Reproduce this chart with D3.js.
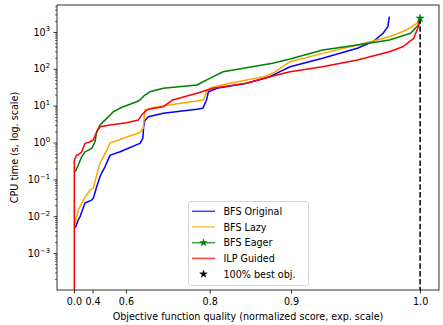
<!DOCTYPE html>
<html>
<head>
<meta charset="utf-8">
<script src="https://cdn.jsdelivr.net/npm/d3@7"></script>
<style>
  body { margin: 0; background: #fff; }
  text { font-family: "DejaVu Sans", sans-serif; fill: #000; }
</style>
</head>
<body>
<svg id="chart" width="443" height="325"></svg>
<script>
// tick labels
var xTicks = [0.0, 0.4, 0.6, 0.8, 0.9, 1.0];
var yTicks = [1e-3, 1e-2, 1e-1, 1, 10, 100, 1000];

// [quality, cpu seconds]
var bfsOriginal = [[0.07,0.0049],[0.174,0.0079],[0.217,0.0097],[0.309,0.023],[0.391,0.0275],[0.407,0.031],
  [0.4375,0.063],[0.463,0.118],[0.475,0.149],[0.497,0.22],[0.527,0.457],[0.576,0.563],[0.649,0.95],
  [0.658,1.3],[0.66,2.5],[0.663,3.84],[0.674,5.0],[0.712,6.2],[0.779,7.96],[0.789,8.47],[0.795,14.3],
  [0.798,23.9],[0.811,29.6],[0.851,40.5],[0.878,61],[0.885,75.6],[0.899,114],[0.929,193],[0.957,361],
  [0.9686,546],[0.9757,922],[0.979,1393],[0.980,2600]];
var bfsLazy = [[0.05,0.0062],[0.174,0.0147],[0.282,0.0275],[0.373,0.0513],[0.407,0.058],[0.4375,0.131],
  [0.463,0.277],[0.508,0.625],[0.527,0.97],[0.649,1.87],[0.659,2.47],[0.664,7.6],[0.696,9.4],[0.790,14.3],
  [0.795,23.9],[0.80,29.6],[0.829,40.5],[0.871,61],[0.881,75.6],[0.899,156],[0.929,263],[0.957,444],
  [0.98,745],[0.9915,1133],[0.998,1722],[1.0,2355]];
var bfsEager = [[0.07,0.161],[0.174,0.245],[0.253,0.41],[0.309,0.56],[0.391,0.695],[0.423,1.05],[0.4375,1.96],
  [0.463,2.99],[0.508,4.54],[0.544,6.85],[0.589,9.4],[0.639,12.8],[0.649,14.3],[0.664,19.5],[0.678,23.9],
  [0.712,29.6],[0.779,36.4],[0.80,55.3],[0.82,83.6],[0.881,141],[0.899,185],[0.929,325],[0.957,444],
  [0.98,607],[0.994,922],[0.9989,1549],[1.0,2355]];
var ilpGuided = [[0.02,5e-5],[0.02,0.335],[0.124,0.457],[0.165,0.46],[0.253,0.56],[0.309,0.95],[0.373,1.05],
  [0.407,1.17],[0.4375,1.96],[0.463,2.69],[0.527,2.99],[0.603,3.44],[0.644,4.08],[0.654,5.57],[0.669,7.6],
  [0.678,8.1],[0.712,9.4],[0.733,14.3],[0.779,21.7],[0.805,29.6],[0.851,40.5],[0.878,61],[0.899,83.6],
  [0.929,114],[0.957,174],[0.98,292],[0.989,398],[0.996,674],[0.9989,1393],[1.0,2355]];
var bestQuality = 1.0;
var bestTime = 2355;

var seriesNames = ["BFS Original", "BFS Lazy", "BFS Eager", "ILP Guided"];
var seriesColors = ["#0000ff", "#ffa500", "#008000", "#ff0000"];
var seriesData = [bfsOriginal, bfsLazy, bfsEager, ilpGuided];

var L = 57, R = 439, T = 5, B = 290;
var svg = d3.select("#chart");

// exp scale: quality q is placed linearly in 10^(2q)
var xLin = d3.scaleLinear().domain([-3.86, 105.4]).range([L, R]);
var x = function (q) { return xLin(Math.pow(10, 2 * q)); };
var y = d3.scaleLog().domain([1e-4, 5395]).range([B, T]);

svg.append("clipPath").attr("id", "clip")
    .append("rect").attr("x", L).attr("y", T).attr("width", R - L).attr("height", B - T);

var plot = svg.append("g").attr("clip-path", "url(#clip)");

var line = d3.line().x(function (d) { return x(d[0]); }).y(function (d) { return y(d[1]); });

seriesData.forEach(function (s, i) {
    plot.append("path")
        .attr("d", line(s))
        .attr("fill", "none")
        .attr("stroke", seriesColors[i])
        .attr("stroke-width", 1.5)
        .attr("stroke-linejoin", "round");
});

// dashed line at the best objective
plot.append("line")
    .attr("x1", x(bestQuality)).attr("x2", x(bestQuality))
    .attr("y1", y(bestTime)).attr("y2", B)
    .attr("stroke", "#000").attr("stroke-width", 1.5)
    .attr("stroke-dasharray", "5.5,2.4");

var star = d3.symbol().type(d3.symbolStar);
svg.append("path")
    .attr("d", star.size(20)())
    .attr("transform", "translate(" + x(bestQuality) + "," + y(bestTime) + ")")
    .attr("fill", "#008000").attr("stroke", "#008000").attr("stroke-width", 0.5);

// x axis
var xAxis = svg.append("g").attr("transform", "translate(0," + B + ")")
    .call(d3.axisBottom(xLin)
        .tickValues(xTicks.map(function (q) { return Math.pow(10, 2 * q); }))
        .tickFormat(function (d, i) { return xTicks[i].toFixed(1); })
        .tickSize(3.5).tickPadding(5).tickSizeOuter(0));
xAxis.select(".domain").remove();
xAxis.selectAll("text").style("font-size", "9.6px").style("font-family", "DejaVu Sans");
xAxis.selectAll("line").attr("stroke", "#000").attr("stroke-width", 0.8);

// y axis, minor ticks
var minor = [];
for (var k = -4; k <= 3; k++) {
    for (var m = 2; m <= 9; m++) {
        var v = m * Math.pow(10, k);
        if (v <= 5395) minor.push(v);
    }
}
var yMinor = svg.append("g").attr("transform", "translate(" + L + ",0)")
    .call(d3.axisLeft(y).tickValues(minor).tickFormat("").tickSize(2).tickSizeOuter(0));
yMinor.select(".domain").remove();
yMinor.selectAll("line").attr("stroke", "#000").attr("stroke-width", 0.6);

var yAxis = svg.append("g").attr("transform", "translate(" + L + ",0)")
    .call(d3.axisLeft(y).tickValues(yTicks).tickFormat("").tickSize(3.5).tickSizeOuter(0));
yAxis.select(".domain").remove();
yAxis.selectAll("line").attr("stroke", "#000").attr("stroke-width", 0.8);

yTicks.forEach(function (t) {
    var e = Math.round(Math.log10(t));
    var txt = svg.append("text")
        .attr("x", 50).attr("y", y(t) + 3.6)
        .attr("text-anchor", "end")
        .style("font-size", "9.6px");
    txt.append("tspan").text("10");
    txt.append("tspan").attr("dy", -4.2).style("font-size", "6.8px")
        .text(e < 0 ? "\u2212" + (-e) : String(e));
});

// frame
svg.append("rect").attr("x", L).attr("y", T).attr("width", R - L).attr("height", B - T)
    .attr("fill", "none").attr("stroke", "#000").attr("stroke-width", 0.8);

// axis labels
svg.append("text").attr("x", (L + R) / 2).attr("y", 320)
    .attr("text-anchor", "middle").style("font-size", "9.6px")
    .text("Objective function quality (normalized score, exp. scale)");
svg.append("text").attr("transform", "translate(17.5," + (T + B) / 2 + ") rotate(-90)")
    .attr("text-anchor", "middle").style("font-size", "9.6px")
    .text("CPU time (s, log. scale)");

// legend
var lg = svg.append("g").attr("transform", "translate(188.5,201.5)");
lg.append("rect").attr("width", 120).attr("height", 84).attr("rx", 2.5)
    .attr("fill", "#fff").attr("fill-opacity", 0.8)
    .attr("stroke", "#cccccc").attr("stroke-width", 0.8);
var legendNames = seriesNames.concat(["100% best obj."]);
legendNames.forEach(function (name, i) {
    var yy = 9.8 + i * 15.7;
    if (i < 4) {
        lg.append("line").attr("x1", 3.5).attr("x2", 26.5).attr("y1", yy).attr("y2", yy)
            .attr("stroke", seriesColors[i]).attr("stroke-width", 1.5).attr("stroke-opacity", 0.75);
    }
    if (i === 2 || i === 4) {
        var c = i === 2 ? "#008000" : "#000";
        lg.append("path").attr("d", star.size(18)())
            .attr("transform", "translate(15," + yy + ")")
            .attr("fill", c).attr("stroke", c).attr("stroke-width", 0.4);
    }
    lg.append("text").attr("x", 35).attr("y", yy + 3.5)
        .style("font-size", "9.6px").text(name);
});
</script>
</body>
</html>
